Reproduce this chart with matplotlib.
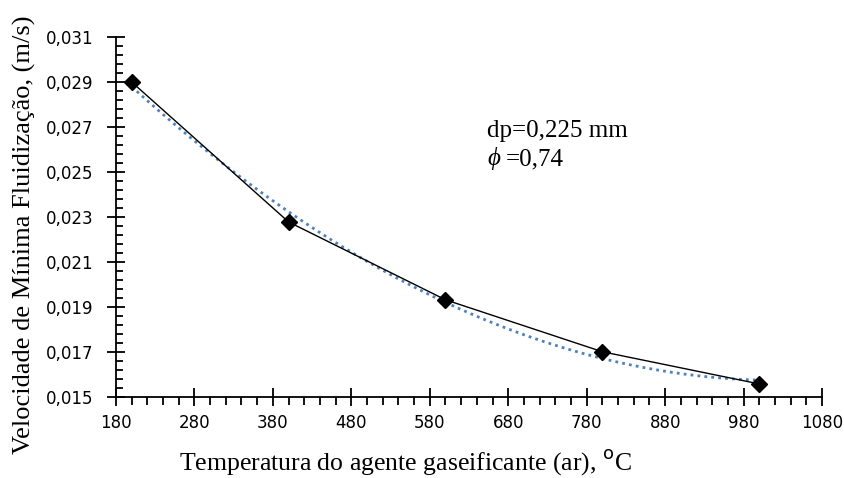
import numpy as np
import matplotlib
matplotlib.use('Agg')
import matplotlib.pyplot as plt
from matplotlib.ticker import FixedLocator, FuncFormatter

# temperatura (C) e velocidade de minima fluidizacao (m/s)
temp = [200, 400, 600, 800, 1000]
umf = [0.0290, 0.02278, 0.01932, 0.01701, 0.01558]

xticks = [180, 280, 380, 480, 580, 680, 780, 880, 980, 1080]
yticks = [0.015, 0.017, 0.019, 0.021, 0.023, 0.025, 0.027, 0.029, 0.031]

# linha de tendencia polinomial (ordem 2), como no Excel
coef = np.polyfit(temp, umf, 2)
tfit = np.linspace(temp[0], temp[-1], 200)
ufit = np.polyval(coef, tfit)

fig = plt.figure(figsize=(8.44, 4.78), dpi=100)
ax = fig.add_axes([0.1374, 0.1695, 0.974 - 0.1374, 0.9226 - 0.1695])

ax.plot(tfit, ufit, linestyle=(0, (1, 1.5)), color='#4f81bd', lw=2, zorder=2)
ax.plot(temp, umf, 'k-', lw=1, marker='D', ms=8.5, mfc='k', mec='k', zorder=3)

ax.set_xlim(180, 1080)
ax.set_ylim(0.015, 0.031)
ax.xaxis.set_major_locator(FixedLocator(xticks))
ax.xaxis.set_minor_locator(FixedLocator(np.arange(180, 1081, 20)))
ax.yaxis.set_major_locator(FixedLocator(yticks))
ax.yaxis.set_minor_locator(FixedLocator(np.arange(0.015, 0.03101, 0.0004)))
ax.yaxis.set_major_formatter(FuncFormatter(lambda v, p: ('%.3f' % v).replace('.', ',')))

for s in ['top', 'right']:
    ax.spines[s].set_visible(False)
ax.spines['left'].set_linewidth(1.3)
ax.spines['bottom'].set_linewidth(1.3)

ax.tick_params(axis='both', which='major', direction='inout', length=13, width=1.3,
               labelsize=12)
ax.tick_params(axis='x', which='minor', direction='out', length=6, width=1.3)
ax.tick_params(axis='y', which='minor', direction='in', length=5, width=1.3)
ax.tick_params(axis='x', which='major', pad=6)
ax.tick_params(axis='y', which='major', pad=10)

ax.set_xlabel('Temperatura do agente gaseificante (ar), $^{\\mathrm{o}}$C',
              fontfamily='Liberation Serif', fontsize=18.5)
ax.xaxis.set_label_coords(0.41, -0.14)
ax.set_ylabel('Velocidade de Mínima Fluidização, (m/s)',
              fontfamily='Liberation Serif', fontsize=19)
ax.yaxis.set_label_coords(-0.113, 0.45)

ax.text(653, 0.02656, 'dp=0,225 mm', fontfamily='Liberation Serif', fontsize=18,
        va='baseline')
ax.text(653, 0.02531, 'ϕ', fontfamily='Liberation Serif', fontstyle='italic', fontsize=18,
        va='baseline')
ax.text(677, 0.02531, '=0,74', fontfamily='Liberation Serif', fontsize=18, va='baseline')

fig.savefig('out.png', dpi=100)
